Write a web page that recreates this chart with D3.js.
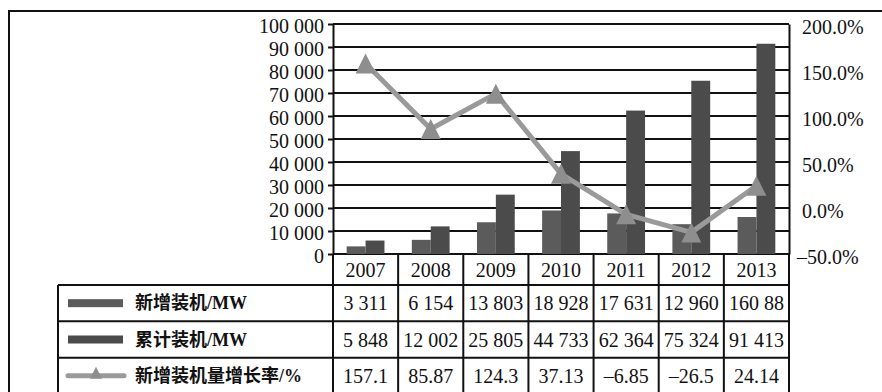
<!DOCTYPE html>
<html>
<head>
<meta charset="utf-8">
<script src="https://cdn.jsdelivr.net/npm/d3@7"></script>
<style>
  html, body { margin: 0; padding: 0; background: #fff; }
  svg { display: block; }
  text { font-family: 'Liberation Serif', 'Noto Sans CJK SC', serif; fill: #111; }
</style>
</head>
<body>
<svg id="chart" width="882" height="392"></svg>
<script>
const years = ['2007', '2008', '2009', '2010', '2011', '2012', '2013'];
const newInstall = [3311, 6154, 13803, 18928, 17631, 12960, 16088];
const cumInstall = [5848, 12002, 25805, 44733, 62364, 75324, 91413];
const growthRate = [157.1, 85.87, 124.3, 37.13, -6.85, -26.5, 24.14];

const seriesNames = ['新增装机/MW', '累计装机/MW', '新增装机量增长率/%'];
const newLabels = ['3 311', '6 154', '13 803', '18 928', '17 631', '12 960', '160 88'];
const cumLabels = ['5 848', '12 002', '25 805', '44 733', '62 364', '75 324', '91 413'];
const rateLabels = ['157.1', '85.87', '124.3', '37.13', '\u20136.85', '\u201326.5', '24.14'];

const leftTicks = [0, 10000, 20000, 30000, 40000, 50000, 60000, 70000, 80000, 90000, 100000];
const rightTicks = [-50, 0, 50, 100, 150, 200];

const colors = { newBar: '#5b5b5b', cumBar: '#4b4b4b', line: '#9a9a9a', marker: '#8e8e8e', ink: '#111' };

const svg = d3.select('#chart');
const plot = { left: 333, right: 789, top: 24, bottom: 254 };
const tableLeft = 58;

// outer frame (only top and left edges are inside the picture)
svg.append('path')
  .attr('d', `M9,400 V11 H890`)
  .attr('fill', 'none')
  .attr('stroke', colors.ink)
  .attr('stroke-width', 2);

const x = d3.scaleBand().domain(years).range([plot.left, plot.right]);
const bw = x.bandwidth();
const xInner = d3.scaleBand().domain(['new', 'cum']).range([bw * 0.21, bw * 0.79]);
const yL = d3.scaleLinear().domain([0, 100000]).range([plot.bottom, plot.top]);
const yR = d3.scaleLinear().domain([-50, 200]).range([plot.bottom, plot.top]);

const fmt = d3.formatLocale({ decimal: '.', thousands: ' ', grouping: [3], currency: ['', ''] }).format(',');

// gridlines
svg.append('g')
  .selectAll('line')
  .data(leftTicks)
  .join('line')
  .attr('x1', plot.left)
  .attr('x2', plot.right)
  .attr('y1', (d) => yL(d))
  .attr('y2', (d) => yL(d))
  .attr('stroke', colors.ink)
  .attr('stroke-width', 2);

// bars
const groups = svg.append('g')
  .selectAll('g')
  .data(years)
  .join('g')
  .attr('transform', (d) => `translate(${x(d)},0)`);

groups.append('rect')
  .attr('x', xInner('new'))
  .attr('width', xInner.bandwidth())
  .attr('y', (d, i) => yL(newInstall[i]))
  .attr('height', (d, i) => yL(0) - yL(newInstall[i]))
  .attr('fill', colors.newBar);

groups.append('rect')
  .attr('x', xInner('cum'))
  .attr('width', xInner.bandwidth())
  .attr('y', (d, i) => yL(cumInstall[i]))
  .attr('height', (d, i) => yL(0) - yL(cumInstall[i]))
  .attr('fill', colors.cumBar);

// left axis
const leftAxis = svg.append('g')
  .attr('transform', `translate(${plot.left},0)`)
  .call(d3.axisLeft(yL).tickValues(leftTicks).tickSize(5).tickSizeOuter(0).tickPadding(4).tickFormat(fmt));
leftAxis.select('.domain').attr('stroke', colors.ink).attr('stroke-width', 2);
leftAxis.selectAll('.tick line').attr('stroke', colors.ink).attr('stroke-width', 2);
leftAxis.selectAll('.tick text')
  .attr('dy', '0.42em')
  .style('font-size', '20px')
  .style('font-family', "'Liberation Serif', serif")
  .attr('fill', colors.ink);

// right axis
const rightAxis = svg.append('g')
  .attr('transform', `translate(${plot.right},0)`)
  .call(d3.axisRight(yR).tickValues(rightTicks).tickSize(0).tickSizeOuter(0).tickPadding(13)
    .tickFormat((d) => (d < 0 ? '\u2013' : '') + Math.abs(d).toFixed(1) + '%'));
rightAxis.select('.domain').attr('stroke', colors.ink).attr('stroke-width', 2);
rightAxis.selectAll('.tick text')
  .attr('dy', '0.45em')
  .style('font-size', '20px')
  .style('font-family', "'Liberation Serif', serif")
  .attr('fill', colors.ink)
  .attr('x', (d) => (d < 0 ? 8 : 13));

// growth rate line
const cx = (i) => x(years[i]) + bw / 2;
const line = d3.line()
  .x((d, i) => cx(i))
  .y((d) => yR(d));

svg.append('path')
  .datum(growthRate)
  .attr('d', line)
  .attr('fill', 'none')
  .attr('stroke', colors.line)
  .attr('stroke-width', 5)
  .attr('stroke-linejoin', 'round');

const triangle = (w, h) => `M0,${-h / 2}L${w / 2},${h / 2}L${-w / 2},${h / 2}Z`;

svg.append('g')
  .selectAll('path')
  .data(growthRate)
  .join('path')
  .attr('d', triangle(20, 20))
  .attr('transform', (d, i) => `translate(${cx(i)},${yR(d)})`)
  .attr('fill', colors.marker);

// data table
const rowY = d3.scaleBand().domain(seriesNames).range([285, 394]);
const table = svg.append('g');
const lineAttrs = (sel) => sel.attr('stroke', colors.ink).attr('stroke-width', 2);

// header row with years
table.selectAll('text.year')
  .data(years)
  .join('text')
  .attr('class', 'year')
  .attr('x', (d) => x(d) + bw / 2)
  .attr('y', 270)
  .attr('dy', '0.35em')
  .attr('text-anchor', 'middle')
  .style('font-size', '20px')
  .text((d) => d);

// horizontal rules
[285, rowY(seriesNames[1]), rowY(seriesNames[2])].forEach((yy) => {
  table.append('line').attr('x1', tableLeft).attr('x2', plot.right).attr('y1', yy).attr('y2', yy).call(lineAttrs);
});

// vertical rules
years.concat(['end']).forEach((yr) => {
  const xx = yr === 'end' ? plot.right : x(yr);
  table.append('line').attr('x1', xx).attr('x2', xx).attr('y1', plot.bottom).attr('y2', 400).call(lineAttrs);
});
table.append('line').attr('x1', tableLeft).attr('x2', tableLeft).attr('y1', 285).attr('y2', 400).call(lineAttrs);

const rows = [newLabels, cumLabels, rateLabels];
rows.forEach((labels, r) => {
  const yy = rowY(seriesNames[r]) + rowY.bandwidth() / 2;
  table.append('g')
    .selectAll('text')
    .data(labels)
    .join('text')
    .attr('x', (d, i) => x(years[i]) + bw / 2)
    .attr('y', yy)
    .attr('dy', '0.35em')
    .attr('text-anchor', 'middle')
    .style('font-size', '20px')
    .text((d) => d);
});

// legend column
seriesNames.forEach((name, r) => {
  const yy = rowY(name) + rowY.bandwidth() / 2;
  if (r < 2) {
    table.append('rect')
      .attr('x', 68)
      .attr('y', yy - 4)
      .attr('width', 55)
      .attr('height', 8)
      .attr('fill', r === 0 ? colors.newBar : colors.cumBar);
  } else {
    table.append('line')
      .attr('x1', 68).attr('x2', 124)
      .attr('y1', yy).attr('y2', yy)
      .attr('stroke', colors.line)
      .attr('stroke-width', 5)
      .attr('stroke-linecap', 'round');
    table.append('path')
      .attr('d', triangle(12, 12))
      .attr('transform', `translate(96,${yy - 3})`)
      .attr('fill', colors.marker);
  }
  table.append('text')
    .attr('x', 135)
    .attr('y', yy)
    .attr('dy', '0.35em')
    .style('font-size', '18px')
    .style('font-weight', 'bold')
    .text(name);
});
</script>
</body>
</html>
